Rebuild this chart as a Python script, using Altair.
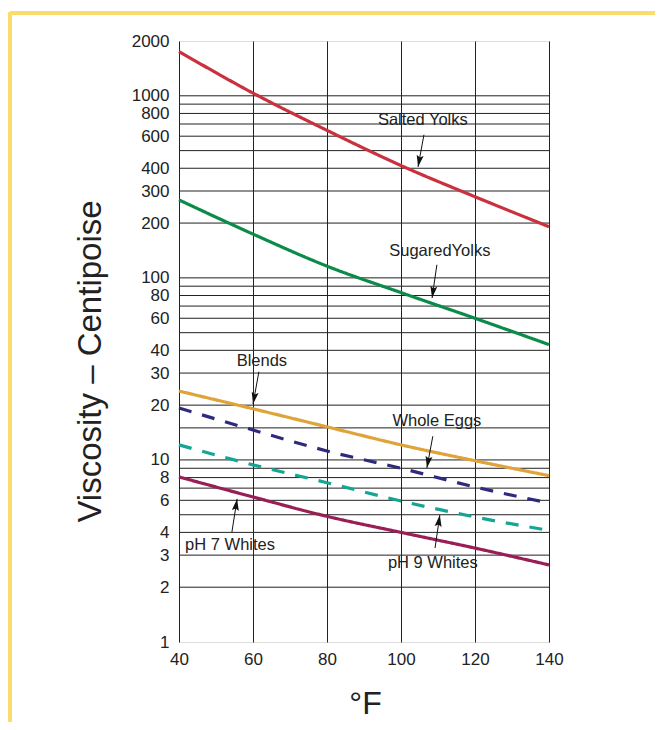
import altair as alt
import pandas as pd

# ---------------- data ----------------
temps = [40, 60, 80, 100, 120, 140]
series_names = ["Salted Yolks", "SugaredYolks", "Blends", "Whole Eggs", "pH 9 Whites", "pH 7 Whites"]
salted_yolks = [1750, 1035, 646, 414, 279, 191]
sugared_yolks = [268, 174, 116, 83, 60, 43]
blends = [23.9, 19.1, 15.2, 12.1, 9.9, 8.2]
whole_eggs = [19.3, 14.6, 11.2, 9.0, 7.1, 5.8]
ph9_whites = [12.1, 9.4, 7.5, 5.95, 4.86, 4.1]
ph7_whites = [8.07, 6.26, 4.9, 4.0, 3.28, 2.65]
series_values = [salted_yolks, sugared_yolks, blends, whole_eggs, ph9_whites, ph7_whites]
series_colors = ["#c9313f", "#0b8b49", "#e0a33a", "#2f2b7c", "#15a595", "#9a1e56"]
series_dashes = [[1, 0], [1, 0], [1, 0], [13, 11], [13, 11], [1, 0]]

y_tick_values = [1, 2, 3, 4, 6, 8, 10, 20, 30, 40, 60, 80, 100, 200, 300, 400, 600, 800, 1000, 2000]
y_grid_values = [2, 3, 4, 5, 6, 7, 8, 9, 10, 15, 20, 30, 40, 50, 60, 70, 80, 90,
                 100, 200, 300, 400, 500, 600, 700, 800, 900, 1000]
x_tick_values = [40, 60, 80, 100, 120, 140]

# annotations: label text position, arrow start, arrow tip (data coords), arrow angle
ann_labels = ["Salted Yolks", "SugaredYolks", "Blends", "Whole Eggs", "pH 9 Whites", "pH 7 Whites"]
ann_text_x = [105.9, 110.5, 62.4, 109.7, 108.6, 53.8]
ann_text_y = [738, 141, 35.0, 16.4, 2.72, 3.41]
ann_from_x = [106.2, 109.7, 61.6, 108.6, 109.2, 54.3]
ann_from_y = [611, 118, 30.5, 13.5, 3.28, 4.02]
ann_to_x = [104.6, 108.4, 60.0, 107.0, 110.5, 55.7]
ann_to_y = [407, 77.6, 20.3, 9.04, 4.99, 6.11]
ann_angle = [190.6, 188.6, 190.6, 190.6, 8.6, 8.6]

W, H = 370, 601
PAD_L, PAD_T, PAD_R, PAD_B = 171, 33, 106, 80

rows = []
for name, vals in zip(series_names, series_values):
    for t, v in zip(temps, vals):
        rows.append({"series": name, "temp": t, "visc": v})
df = pd.DataFrame(rows)

ann = pd.DataFrame({
    "label": ann_labels, "tx": ann_text_x, "ty": ann_text_y,
    "fx": ann_from_x, "fy": ann_from_y, "ax": ann_to_x, "ay": ann_to_y,
    "angle": ann_angle,
})
grid_df = pd.DataFrame({"g": y_grid_values})

xscale = alt.Scale(domain=[40, 140], nice=False, zero=False)
yscale = alt.Scale(type="log", domain=[1, 2000], nice=False)

FONT = "Liberation Sans"

x_axis = alt.Axis(
    values=x_tick_values, grid=True, gridColor="#222", gridWidth=1, gridOpacity=1,
    ticks=False, domain=False, labelFontSize=17, labelColor="#222", labelFont=FONT,
    labelPadding=9, labelFlush=False, labelOverlap=False,
    title="°F", titleFontSize=32, titleFont=FONT, titleFontWeight="normal",
    titleColor="#222", titleX=186, titleY=61, titleBaseline="middle", titleAlign="center",
)
y_axis = alt.Axis(
    values=y_tick_values, grid=False, ticks=False, domain=False,
    labelFontSize=17, labelColor="#222", labelFont=FONT, labelPadding=10,
    labelFlush=False, labelOverlap=False, format="d",
    title="Viscosity – Centipoise", titleFontSize=33, titleFont=FONT,
    titleFontWeight="normal", titleColor="#222", titleAngle=270,
    titleX=-89, titleY=320, titleBaseline="middle", titleAlign="center",
)

gridlines = alt.Chart(grid_df).mark_rule(color="#222", strokeWidth=1).encode(
    y=alt.Y("g:Q", scale=yscale, axis=y_axis),
)

lines = alt.Chart(df).mark_line(strokeWidth=3.2, interpolate="monotone").encode(
    x=alt.X("temp:Q", scale=xscale, axis=x_axis),
    y=alt.Y("visc:Q", scale=yscale),
    color=alt.Color("series:N", scale=alt.Scale(domain=series_names, range=series_colors), legend=None),
    strokeDash=alt.StrokeDash("series:N", scale=alt.Scale(domain=series_names, range=series_dashes), legend=None),
)

labels = alt.Chart(ann).mark_text(fontSize=16.5, font=FONT, color="#222", baseline="middle", align="center").encode(
    x=alt.X("tx:Q", scale=xscale), y=alt.Y("ty:Q", scale=yscale), text="label:N",
)
arrow_shafts = alt.Chart(ann).mark_rule(color="#111", strokeWidth=1).encode(
    x=alt.X("fx:Q", scale=xscale), y=alt.Y("fy:Q", scale=yscale),
    x2="ax:Q", y2="ay:Q",
)
arrow_heads = alt.Chart(ann).mark_point(
    shape="M0,0 L-0.42,1.4 L0,1.15 L0.42,1.4 Z", filled=True, color="#111", size=280, opacity=1,
).encode(
    x=alt.X("ax:Q", scale=xscale), y=alt.Y("ay:Q", scale=yscale),
    angle=alt.Angle("angle:Q", scale=None),
)

frame_top = alt.Chart(grid_df).mark_rule(color="#fcdc6c", strokeWidth=3).encode(
    x=alt.value(-169), x2=alt.value(W + PAD_R), y=alt.value(-28),
)
frame_left = alt.Chart(grid_df).mark_rule(color="#fcdc6c", strokeWidth=3).encode(
    x=alt.value(-169), y=alt.value(-29), y2=alt.value(H + PAD_B),
)

chart = alt.layer(
    frame_top, frame_left, gridlines, lines, arrow_shafts, arrow_heads, labels,
).properties(
    width=W, height=H,
    autosize=alt.AutoSizeParams(type="none"),
    padding={"left": PAD_L, "top": PAD_T, "right": PAD_R, "bottom": PAD_B},
).configure_view(
    stroke="#111", strokeWidth=1.2,
).configure(background="white")

chart.save("out.html", embed_options={"renderer": "svg", "actions": False})
